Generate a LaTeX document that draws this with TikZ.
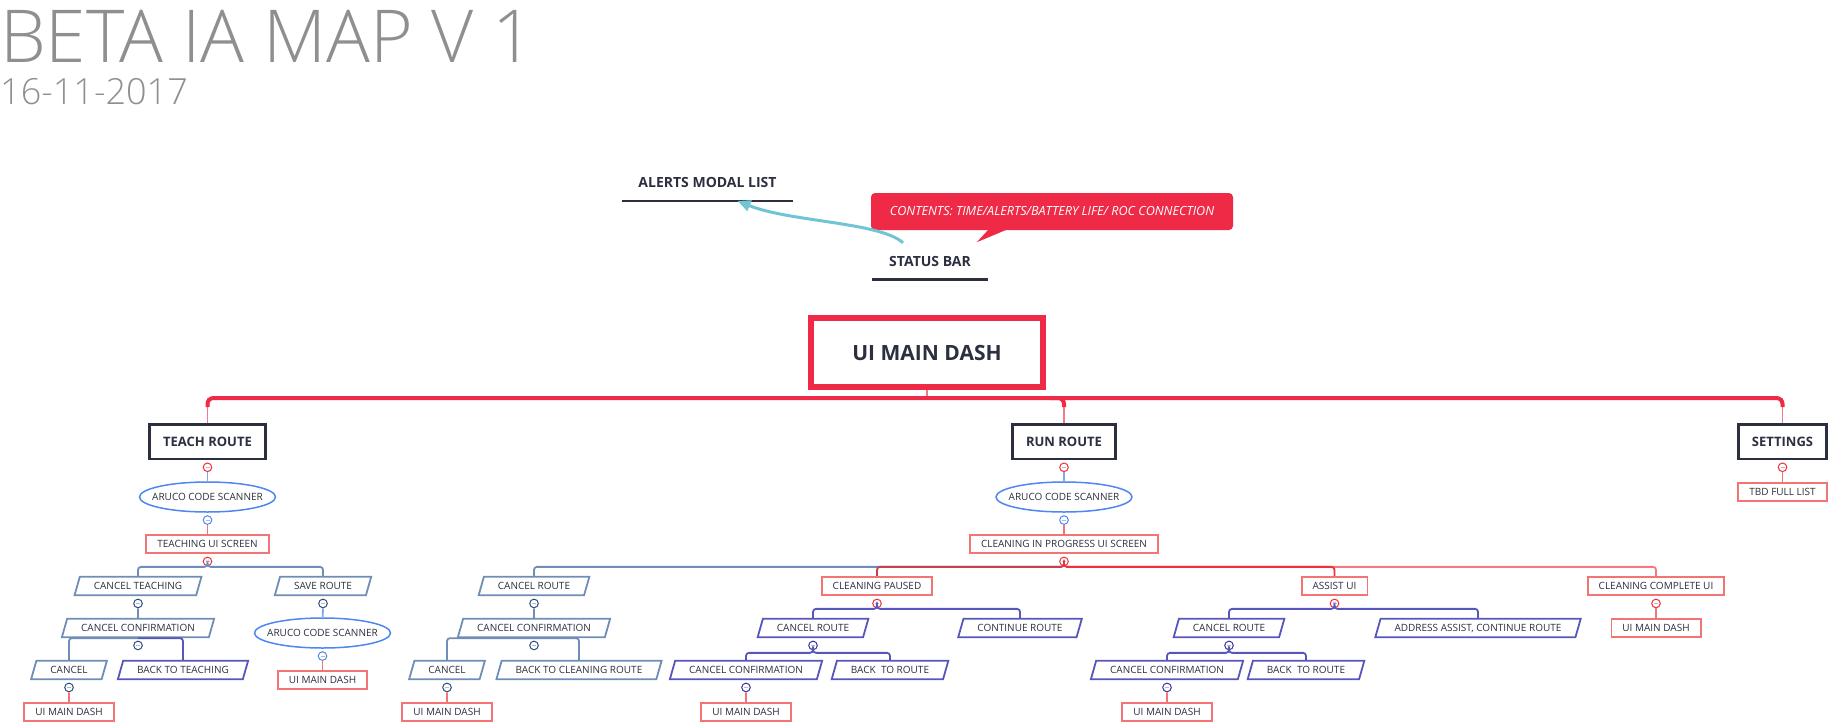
\documentclass[tikz,border=0pt]{standalone}
\usepackage{fontspec}
\setmainfont{Open Sans}
\newfontfamily\titlefont{Open Sans Light}
\usepackage{tikz}
\usetikzlibrary{arrows.meta, positioning, calc, shapes.geometric}
\definecolor{deepred}{HTML}{EE2A47}
\definecolor{softred}{HTML}{F27A86}
\definecolor{boxred}{HTML}{F27474}
\definecolor{knobred}{HTML}{F0303A}
\definecolor{winered}{HTML}{C8404F}
\definecolor{inkdark}{HTML}{2B2F3E}
\definecolor{scanblue}{HTML}{4F86F0}
\definecolor{linkblue}{HTML}{86A6EE}
\definecolor{steel}{HTML}{6F8DB6}
\definecolor{navy}{HTML}{2E4C7E}
\definecolor{indigo}{HTML}{5656BC}
\definecolor{indigodark}{HTML}{3535A5}
\definecolor{cyanline}{HTML}{70C4D4}
\definecolor{titlegray}{HTML}{8F8F8F}
\definecolor{knobdash}{HTML}{B8B8C8}
\newcommand{\aruco}{\makebox[0pt]{ARUCO CODE SCANNER}}

\begin{document}
\begin{tikzpicture}[
            x=1pt, y=-1pt,
            >={Triangle[length=13pt, width=11pt]},
            every node/.style={font=\fontsize{10}{12}\selectfont, text=inkdark},
            titletext/.style={anchor=base west, inner sep=0pt, text=titlegray, text depth=0pt,
                    font=\titlefont\fontsize{73}{84}\selectfont},
            datetext/.style ={anchor=base west, inner sep=0pt, text=titlegray, text height=26pt,
                    font=\titlefont\fontsize{36}{42}\selectfont},
            floating/.style ={inner sep=0pt, font=\fontsize{14}{16}\selectfont\bfseries},
            note/.style     ={fill=deepred, rounded corners=4pt, minimum width=362pt,
                    minimum height=37pt, text=white, font=\fontsize{12.6}{15}\selectfont\itshape},
            central/.style  ={draw=deepred, line width=6pt, minimum width=232pt,
                    minimum height=69pt, font=\fontsize{21}{25}\selectfont\bfseries},
            topic/.style    ={draw=inkdark, line width=2.5pt, minimum height=34.5pt,
                    inner xsep=13.5pt, font=\fontsize{13}{15}\selectfont\bfseries},
            screen/.style   ={draw=boxred, line width=1.8pt, minimum height=18.5pt,
                    inner xsep=11pt, inner ysep=2pt, text height=7.3pt, text depth=0pt},
            scanner/.style  ={ellipse, draw=scanblue, line width=1.5pt, minimum width=136pt,
                    minimum height=30pt, inner sep=0pt},
            choice/.style   ={trapezium, trapezium left angle=65, trapezium right angle=115,
                    trapezium stretches=true, draw=#1, line width=1.8pt, minimum height=18.5pt,
                    inner xsep=14pt, inner ysep=2pt, text height=7.3pt, text depth=0pt},
            knob/.style     ={circle, draw=#1, fill=white, line width=1pt, minimum size=8.6pt,
                    inner sep=0pt, path picture={\draw[knobdash, line width=0.6pt]
                    ([xshift=-2pt]path picture bounding box.center) --
                    ([xshift=2pt]path picture bounding box.center);}},
            link/.style     ={draw=#1, line width=1.8pt, rounded corners=3pt},
            trunk/.style    ={draw=deepred, line width=4pt, rounded corners=6pt},
            stem/.style     ={draw=softred, line width=1.6pt},
            underline/.style={draw=inkdark, line width=2.8pt},
            relate/.style   ={->, draw=cyanline, line width=3pt}
        ]
        \useasboundingbox (0,0) rectangle (1831,725);

        %% --- Title block ----------------------------------------------------
        \node[titletext] (title) at (0,63) {BETA IA MAP V 1};
        \node[datetext]  (date)  at (0,104) {16-11-2017};

        %% --- Floating topics and note --------------------------------------
        \node[floating, minimum width=171pt, minimum height=37.4pt] (alerts) at (707.5,182) {ALERTS MODAL LIST};
        \draw[underline] (alerts.south west) -- (alerts.south east);
        \node[floating, minimum width=116pt, minimum height=36pt] (status) at (930,261) {STATUS BAR};
        \draw[underline] (status.south west) -- (status.south east);

        \node[note] (contents) at (1052,211.5) {CONTENTS: TIME/ALERTS/BATTERY LIFE/ ROC CONNECTION};
        \fill[deepred] ($(contents.south west)+(118,-1)$) -- ($(contents.south west)+(106,12)$)
            -- ($(contents.south west)+(137,-1)$) -- cycle;

        % relationship: status bar -> alerts list
        \draw[relate] ([xshift=-27pt]status.north) .. controls (880,222) and (790,222) .. ([xshift=30pt]alerts.south);

        %% --- Central topic and main branches -------------------------------
        \node[central] (main) at (927,352.5) {UI MAIN DASH};
        \node[topic] (teach)    at (207.5,441.5) {TEACH ROUTE};
        \node[topic] (run)      at (1064,441.5)  {RUN ROUTE};
        \node[topic] (settings) at (1782.5,441.5) {SETTINGS};

        \coordinate (hub) at (927,398);
        \draw[stem] (main) -- (hub);
        \foreach \branch in {teach, run, settings}
            \draw[stem] (\branch.north |- hub) -- (\branch.north);
        \draw[trunk] ($(teach.north |- hub)+(0,9)$) -- (teach.north |- hub)
            -- (settings.north |- hub) -- ($(settings.north |- hub)+(0,9)$);
        \draw[trunk] ($(run.north |- hub)+(-14,0)$) -- (run.north |- hub) -- ($(run.north |- hub)+(0,9)$);

        %% --- Teach route ---------------------------------------------------
        \node[knob=knobred, below=2.5pt of teach] (teachK) {};
        \node[scanner] (teachScan) at (207.5,497) {\aruco};
        \node[knob=scanblue, below=2.5pt of teachScan] (teachScanK) {};
        \node[screen] (teachScreen) at (207.5,544) {TEACHING UI SCREEN};
        \node[knob=knobred, below=2.5pt of teachScreen] (teachScreenK) {};
        \node[choice=steel] (cancelTeach) at (138,586) {CANCEL TEACHING};
        \node[choice=steel] (saveRoute)   at (323,586) {SAVE ROUTE};
        \node[knob=navy, below=2.5pt of cancelTeach] (cancelTeachK) {};
        \node[choice=steel] (teachConfirm) at (138,628) {CANCEL CONFIRMATION};
        \node[knob=navy, below=2.5pt of teachConfirm] (teachConfirmK) {};
        \node[choice=steel]  (teachCancel) at (69,670)  {CANCEL};
        \node[choice=indigo] (backTeach)   at (183,670) {BACK TO TEACHING};
        \node[knob=navy, below=2.5pt of teachCancel] (teachCancelK) {};
        \node[screen] (teachDashA) at (69,712) {UI MAIN DASH};
        \node[knob=navy, below=2.5pt of saveRoute] (saveRouteK) {};
        \node[scanner] (saveScan) at (322.5,633) {\aruco};
        \node[knob=scanblue, below=2.5pt of saveScan] (saveScanK) {};
        \node[screen] (teachDashB) at (322.5,680) {UI MAIN DASH};

        \draw[link=linkblue] (teachK) -- (teachScan);
        \draw[link=boxred] (teachScanK) -- (teachScreen);
        \draw[link=steel] (teachScreenK.south) |- ([yshift=9pt]cancelTeach.north) -- (cancelTeach.north);
        \draw[link=steel] (teachScreenK.south) |- ([yshift=9pt]saveRoute.north) -- (saveRoute.north);
        \draw[link=steel] (cancelTeachK) -- (teachConfirm);
        \draw[link=steel] (teachConfirm.south) -| (teachCancel.north);
        \draw[link=indigo] (teachConfirm.south) -| (backTeach.north);
        \draw[link=boxred] (teachCancelK) -- (teachDashA);
        \draw[link=linkblue] (saveRouteK) -- (saveScan);
        \draw[link=boxred] (saveScanK) -- (teachDashB);

        %% --- Run route -----------------------------------------------------
        \node[knob=knobred, below=2.5pt of run] (runK) {};
        \node[scanner] (runScan) at (1064,497) {\aruco};
        \node[knob=scanblue, below=2.5pt of runScan] (runScanK) {};
        \node[screen] (runScreen) at (1064,544) {CLEANING IN PROGRESS UI SCREEN};
        \node[knob=knobred, below=2.5pt of runScreen] (runScreenK) {};
        \node[choice=steel] (cancelRoute) at (534,586) {CANCEL ROUTE};
        \node[screen] (paused)   at (877,586)    {CLEANING PAUSED};
        \node[screen] (assist)   at (1334.5,586) {ASSIST UI};
        \node[screen] (complete) at (1656,586)   {CLEANING COMPLETE UI};

        % cancel route branch
        \node[knob=navy, below=2.5pt of cancelRoute] (cancelRouteK) {};
        \node[choice=steel] (runConfirm) at (534,628) {CANCEL CONFIRMATION};
        \node[knob=navy, below=2.5pt of runConfirm] (runConfirmK) {};
        \node[choice=steel] (runCancel) at (447,670) {CANCEL};
        \node[choice=steel] (backClean) at (579,670) {BACK TO CLEANING ROUTE};
        \node[knob=navy, below=2.5pt of runCancel] (runCancelK) {};
        \node[screen] (runDash) at (447,712) {UI MAIN DASH};

        % cleaning paused branch
        \node[knob=knobred, below=2.5pt of paused] (pausedK) {};
        \node[choice=indigo] (pausedCancel)  at (813,628)  {CANCEL ROUTE};
        \node[choice=indigo] (continueRoute) at (1020,628) {CONTINUE ROUTE};
        \node[knob=indigodark, below=2.5pt of pausedCancel] (pausedCancelK) {};
        \node[choice=indigo] (pausedConfirm) at (746,670) {CANCEL CONFIRMATION};
        \node[choice=indigo] (pausedBack)    at (890,670) {BACK\ \ TO ROUTE};
        \node[knob=indigodark, below=2.5pt of pausedConfirm] (pausedConfirmK) {};
        \node[screen] (pausedDash) at (746,712) {UI MAIN DASH};

        % assist branch
        \node[knob=knobred, below=2.5pt of assist] (assistK) {};
        \node[choice=indigo] (assistCancel)  at (1229,628) {CANCEL ROUTE};
        \node[choice=indigo] (addressAssist) at (1478,628) {ADDRESS ASSIST, CONTINUE ROUTE};
        \node[knob=indigodark, below=2.5pt of assistCancel] (assistCancelK) {};
        \node[choice=indigo] (assistConfirm) at (1167,670) {CANCEL CONFIRMATION};
        \node[choice=indigo] (assistBack)    at (1306,670) {BACK\ \ TO ROUTE};
        \node[knob=indigodark, below=2.5pt of assistConfirm] (assistConfirmK) {};
        \node[screen] (assistDash) at (1167,712) {UI MAIN DASH};

        % cleaning complete branch
        \node[knob=knobred, below=2.5pt of complete] (completeK) {};
        \node[screen] (completeDash) at (1656,628) {UI MAIN DASH};

        \draw[link=linkblue] (runK) -- (runScan);
        \draw[link=boxred] (runScanK) -- (runScreen);
        \draw[link=steel] (runScreenK.south) |- ([yshift=9pt]cancelRoute.north) -- (cancelRoute.north);
        \draw[link=winered] (runScreenK.south) |- ([yshift=9pt]paused.north) -- (paused.north);
        \draw[link=softred] (runScreenK.south) |- ([yshift=9pt]complete.north) -- (complete.north);
        \draw[link=knobred] (runScreenK.south) |- ([yshift=9pt]assist.north) -- (assist.north);

        \draw[link=steel] (cancelRouteK) -- (runConfirm);
        \draw[link=steel] (runConfirm.south) -| (runCancel.north);
        \draw[link=steel] (runConfirm.south) -| (backClean.north);
        \draw[link=boxred] (runCancelK) -- (runDash);

        \draw[link=indigo] (pausedK.south) |- ([yshift=9pt]pausedCancel.north) -- (pausedCancel.north);
        \draw[link=indigo] (pausedK.south) |- ([yshift=9pt]continueRoute.north) -- (continueRoute.north);
        \draw[link=indigo] (pausedCancelK.south) |- ([yshift=7pt]pausedConfirm.north) -- (pausedConfirm.north);
        \draw[link=indigo] (pausedCancelK.south) |- ([yshift=7pt]pausedBack.north) -- (pausedBack.north);
        \draw[link=boxred] (pausedConfirmK) -- (pausedDash);

        \draw[link=indigo] (assistK.south) |- ([yshift=9pt]assistCancel.north) -- (assistCancel.north);
        \draw[link=indigo] (assistK.south) |- ([yshift=9pt]addressAssist.north) -- (addressAssist.north);
        \draw[link=indigo] (assistCancelK.south) |- ([yshift=7pt]assistConfirm.north) -- (assistConfirm.north);
        \draw[link=indigo] (assistCancelK.south) |- ([yshift=7pt]assistBack.north) -- (assistBack.north);
        \draw[link=boxred] (assistConfirmK) -- (assistDash);

        \draw[link=boxred] (completeK) -- (completeDash);

        %% --- Settings ------------------------------------------------------
        \node[knob=knobred, below=2.5pt of settings] (settingsK) {};
        \node[screen] (tbd) at (1782.5,492) {TBD FULL LIST};
        \draw[link=boxred] (settingsK) -- (tbd);

    \end{tikzpicture}
\end{document}
